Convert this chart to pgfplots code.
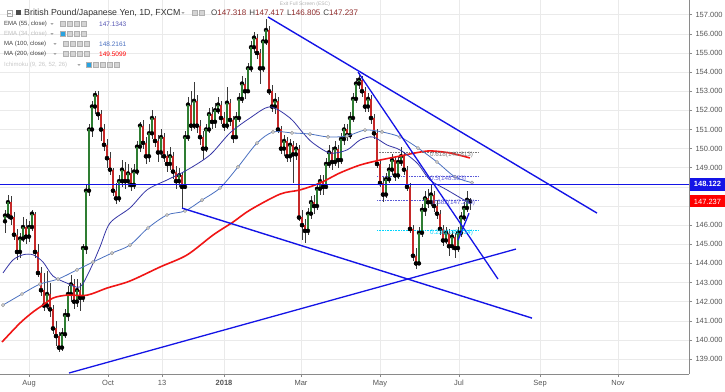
\documentclass[border=0pt]{standalone}
\usepackage{pgfplots}
\pgfplotsset{compat=1.18}
\usepackage{pgfplotstable}
\usepackage{fontspec}
\setmainfont{Liberation Sans}
\definecolor{upc}{HTML}{2E7D32}
\definecolor{dnc}{HTML}{C62828}
\definecolor{wick}{HTML}{3A3A3A}
\definecolor{ema}{HTML}{3535A5}
\definecolor{mahund}{HTML}{4A70C0}
\definecolor{matwo}{HTML}{F01515}
\definecolor{tl}{HTML}{1414E6}
\definecolor{gridc}{HTML}{EAEAEA}
\definecolor{axc}{HTML}{8A8A8A}
\definecolor{txt}{HTML}{555555}
\definecolor{fibg}{HTML}{7A7A7A}
\definecolor{fibb}{HTML}{5A5AD8}
\definecolor{fibc}{HTML}{00D5FF}
\definecolor{ohlc}{HTML}{8E2A2A}
\definecolor{tvblue}{HTML}{29A3E0}
\definecolor{boxg}{HTML}{D4D4D4}
\definecolor{boxd}{HTML}{B0B0B0}

\pgfplotstableread{
x o h l c
5 146.2 146.8 145.6 146.5
8 146.5 147.6 146.3 147.2
11 147.2 147.5 146.0 146.4
14 146.4 146.7 145.2 145.5
17 145.5 145.8 144.2 144.6
20 144.6 145.6 144.3 145.3
23 145.3 146.4 145.1 145.9
26 145.9 146.3 145.0 145.4
29 145.4 146.2 145.1 145.9
32 145.9 146.8 145.7 146.6
35 146.6 146.7 144.3 144.6
38 144.6 145.0 143.3 143.5
41 143.5 143.8 142.3 142.6
44 142.6 143.5 141.5 141.8
47 141.8 143.6 141.6 142.4
50 142.4 143.0 141.2 141.6
53 141.6 141.8 140.3 140.6
56 140.6 141.0 139.7 140.2
59 140.2 140.4 139.35 139.6
62 139.6 140.6 139.4 140.3
65 140.3 141.6 140.1 141.3
68 141.3 142.8 141.0 142.4
71 142.4 143.4 142.0 142.9
74 142.9 143.2 141.6 142.0
77 142.0 143.2 141.7 142.6
80 142.6 143.0 141.5 142.2
83 142.2 145.0 142.0 144.8
86 144.8 148.1 144.5 147.8
89 147.8 151.3 147.5 151.0
92 151.0 152.5 150.6 152.2
95 152.2 153.0 151.8 152.8
98 152.8 153.0 151.5 151.8
101 151.8 152.0 150.4 151.0
104 151.0 151.3 149.9 150.2
107 150.2 150.5 149.0 149.5
110 149.5 149.8 148.6 148.9
113 148.9 149.0 147.5 147.8
116 147.8 148.2 147.1 147.4
119 147.4 148.6 147.2 148.3
122 148.3 149.4 148.0 148.9
125 148.9 149.3 147.9 148.3
128 148.3 149.2 148.0 148.7
131 148.7 149.0 147.8 148.1
134 148.1 149.2 147.9 148.8
137 148.8 150.4 148.6 150.1
140 150.1 151.4 149.8 151.2
143 151.2 151.5 150.0 150.3
146 150.3 150.6 149.2 149.6
149 149.6 151.3 149.3 150.8
152 150.8 152.0 150.5 151.6
155 151.6 151.7 150.1 150.4
158 150.4 150.7 149.3 149.8
161 149.8 151.0 149.5 150.6
164 150.6 150.8 149.3 149.6
167 149.6 149.9 148.8 149.2
170 149.2 150.1 148.9 149.6
173 149.6 149.8 148.4 148.8
176 148.8 149.1 147.9 148.3
179 148.3 149.0 148.0 148.6
182 148.6 148.8 146.9 148.0
185 148.0 150.9 147.9 150.6
188 150.6 152.7 150.4 152.3
191 152.3 153.0 150.9 151.2
194 151.2 153.5 151.0 152.5
197 152.5 152.8 150.8 151.2
200 151.2 151.5 150.2 150.6
203 150.6 150.9 149.4 150.0
206 150.0 151.3 149.8 151.0
209 151.0 152.1 150.8 151.8
212 151.8 152.2 151.0 151.4
215 151.4 152.4 151.1 152.0
218 152.0 152.7 151.8 152.3
221 152.3 152.5 151.3 151.6
224 151.6 151.9 150.9 151.2
227 151.2 153.2 151.0 152.4
230 152.4 152.6 151.2 151.5
233 151.5 151.7 150.3 150.6
236 150.6 151.9 150.5 151.6
239 151.6 152.9 151.4 152.6
242 152.6 153.8 152.4 153.4
245 153.4 153.7 152.6 153.0
248 153.0 154.5 152.9 154.2
251 154.2 155.6 154.0 155.3
254 155.3 156.1 155.0 155.8
257 155.8 156.0 154.7 155.0
260 155.0 155.2 153.4 154.2
263 154.2 155.9 154.0 155.6
266 155.6 156.75 155.4 156.2
269 156.2 156.4 152.8 153.0
272 153.0 153.3 151.9 152.2
275 152.2 152.9 151.8 152.5
278 152.5 152.7 150.8 151.0
281 151.0 151.2 149.7 150.0
284 150.0 150.7 149.6 150.4
287 150.4 150.6 149.3 149.6
290 149.6 150.5 149.3 150.2
293 150.2 150.4 148.2 149.7
296 149.7 150.3 149.4 150.0
299 150.0 150.2 146.2 146.4
302 146.4 146.8 145.2 146.0
305 146.0 146.3 145.05 145.7
308 145.7 146.9 145.5 146.6
311 146.6 147.5 146.3 147.2
314 147.2 147.6 146.6 147.0
317 147.0 148.2 146.8 147.9
320 147.9 148.6 147.6 148.3
323 148.3 148.6 147.6 148.0
326 148.0 149.5 147.9 149.2
329 149.2 150.2 149.0 149.8
332 149.8 150.1 148.9 149.3
335 149.3 150.4 149.1 150.0
338 150.0 150.2 149.0 149.4
341 149.4 150.8 149.2 150.5
344 150.5 151.3 150.2 151.0
347 151.0 151.3 150.4 150.7
350 150.7 151.9 150.5 151.6
353 151.6 152.9 151.4 152.6
356 152.6 153.7 152.4 153.4
359 153.4 153.95 153.1 153.6
362 153.6 153.8 152.7 153.0
365 153.0 153.2 151.9 152.2
368 152.2 152.9 151.9 152.6
371 152.6 152.8 151.3 151.6
374 151.6 151.8 150.5 150.8
377 150.8 151.0 149.0 149.2
380 149.2 149.4 148.0 148.2
383 148.2 148.5 147.2 147.6
386 147.6 148.7 147.4 148.4
389 148.4 149.2 148.2 148.9
392 148.9 149.7 148.6 149.4
395 149.4 149.6 148.3 148.6
398 148.6 149.6 148.4 149.3
401 149.3 150.1 149.1 149.6
404 149.6 149.8 148.6 148.9
407 148.9 149.1 147.8 148.0
410 148.0 148.2 145.6 145.8
413 145.8 146.0 144.1 144.4
416 144.4 144.8 143.7 144.0
419 144.0 145.9 143.9 145.6
422 145.6 147.1 145.4 146.8
425 146.8 147.8 146.5 147.4
428 147.4 147.9 146.9 147.2
431 147.2 148.1 147.0 147.6
434 147.6 147.8 146.7 147.0
437 147.0 147.3 146.3 146.6
440 146.6 146.8 145.5 145.8
443 145.8 146.0 144.9 145.2
446 145.2 145.9 145.0 145.6
449 145.6 145.8 144.4 144.9
452 144.9 145.7 144.7 145.4
455 145.4 145.6 144.3 144.8
458 144.8 145.9 144.6 145.6
461 145.6 146.7 145.4 146.4
464 146.4 147.2 146.2 146.9
467 146.9 147.8 146.7 147.32
470 147.318 147.417 146.805 147.237
}\candles

\newcommand{\tvbox}[3]{\filldraw[fill=#3,draw=boxd,line width=0.3pt] (#1,#2-2.6) rectangle (#1+5.2,#2+2.6);}
\newcommand{\tri}[2]{\fill[gray!70] (#1-1.6,#2+0.9)--(#1+1.6,#2+0.9)--(#1,#2-0.9)--cycle;}

\begin{document}
\begin{tikzpicture}[x=1pt,y=1pt]
\useasboundingbox (0,-17) rectangle (725,374);
\begin{axis}[
  at={(0,0)}, anchor=south west,
  scale only axis, width=689pt, height=374pt,
  xmin=0, xmax=689, ymin=138.218, ymax=157.768,
  axis x line*=bottom, axis y line*=right,
  axis line style={axc, line width=0.6pt},
  tick align=outside, major tick length=3pt,
  tick style={axc, line width=0.5pt},
  grid=major, grid style={gridc, line width=0.5pt},
  ytick={139,140,...,146,149,150,...,157},
  extra y ticks={147,148}, extra y tick labels={},
  extra y tick style={grid=major},
  scaled y ticks=false,
  y tick label style={font=\fontsize{7.5}{8}\selectfont, text=txt,
     /pgf/number format/.cd, fixed, fixed zerofill, precision=3, 1000 sep={}, assume math mode=true},
  xtick={29,108,162,224,301,380,459,540,618},
  xticklabels={Aug,Oct,13,\textbf{2018},Mar,May,Jul,Sep,Nov},
  x tick label style={font=\fontsize{7.5}{8}\selectfont, text=txt},
  clip mode=individual,
]
% fib levels
\addplot[fibg, densely dotted, line width=0.6pt] coordinates {(377,149.813) (478,149.813)};
\addplot[fibb, densely dotted, line width=0.6pt] coordinates {(377,148.553) (478,148.553)};
\addplot[fibb, densely dotted, line width=0.6pt] coordinates {(377,147.293) (478,147.293)};
\addplot[fibc, densely dotted, line width=0.6pt] coordinates {(377,145.734) (478,145.734)};
% wicks
\addplot[only marks, mark=none, forget plot,
  error bars/.cd, y dir=both, y explicit, error mark=none,
  error bar style={line width=0.5pt, color=wick}]
  table[x=x, y=c, y error plus expr=\thisrow{h}-\thisrow{c}, y error minus expr=\thisrow{c}-\thisrow{l}] {\candles};
% up bodies
\addplot[only marks, mark=none, forget plot,
  restrict expr to domain={\thisrow{c}-\thisrow{o}}{0:100},
  error bars/.cd, y dir=plus, y explicit, error mark=none,
  error bar style={line width=1.7pt, color=upc}]
  table[x=x, y=o, y error expr=\thisrow{c}-\thisrow{o}] {\candles};
% down bodies
\addplot[only marks, mark=none, forget plot,
  restrict expr to domain={\thisrow{o}-\thisrow{c}}{0.0001:100},
  error bars/.cd, y dir=plus, y explicit, error mark=none,
  error bar style={line width=1.7pt, color=dnc}]
  table[x=x, y=c, y error expr=\thisrow{o}-\thisrow{c}] {\candles};
% MA 200
\addplot[matwo, line width=1.6pt, smooth] coordinates {
(2,139.89) (20,140.88) (33,141.46) (43,141.82) (53,142.19) (67,142.34) (87,142.34) (107,142.71)
(130,143.08) (160,143.81) (187,144.44) (213,145.48) (233,146.16) (250,146.79) (280,147.62)
(300,147.84) (320,148.20) (340,148.73) (360,149.14) (380,149.40) (400,149.61) (415,149.77)
(430,149.88) (450,149.77) (470,149.51)};
% EMA 55
\addplot[ema, line width=0.8pt, smooth] coordinates {
(3,143.50) (13,144.18) (23,144.45) (33,144.45) (43,144.07) (53,143.34) (67,142.97) (80,142.77)
(90,143.66) (100,144.86) (110,146.11) (130,146.90) (147,147.84) (167,148.36) (187,148.88)
(210,149.67) (230,150.82) (250,151.60) (270,152.18) (290,151.60) (303,150.82) (313,150.29)
(330,149.77) (347,149.93) (360,150.45) (373,150.61) (387,150.19) (400,149.93) (417,149.25)
(430,148.36) (447,147.84) (470,147.13)};
% MA 100
\addplot[mahund, line width=0.8pt, smooth, mark=*, mark size=1.7pt,
  mark options={fill=gray!35, draw=gray!85, line width=0.4pt}] coordinates {
(3,141.82) (22,142.40) (40,142.92) (58,143.18) (77,143.66) (93,144.07) (112,144.54) (130,144.96)
(148,145.85) (167,146.53) (185,146.74) (202,147.31) (220,147.94) (238,149.04) (257,150.29)
(273,150.87) (292,150.82) (310,150.76) (328,150.61) (347,150.66) (365,150.97) (382,150.87)
(400,150.61) (418,150.03) (437,149.30) (455,148.52) (472,148.22)};
% trend lines
\addplot[tl, line width=1.4pt] coordinates {(268,156.88) (597,146.63)};
\addplot[tl, line width=1.4pt] coordinates {(182,146.89) (532,141.14)};
\addplot[tl, line width=1.3pt] coordinates {(69,138.27) (516,144.75)};
\addplot[tl, line width=1.3pt] coordinates {(358,154.0) (498,143.18)};
\addplot[tl, line width=1.3pt] coordinates {(458,145.21) (469,146.62)};
\addplot[tl, line width=1.0pt] coordinates {(0,148.122) (689,148.122)};
% fib labels
\node[anchor=west, font=\fontsize{6.3}{7}\selectfont, text=fibg, inner sep=0pt] at (axis cs:430,149.813) [yshift=-2.5pt] {0.618(149.813)};
\node[anchor=west, font=\fontsize{6.3}{7}\selectfont, text=fibb, inner sep=0pt] at (axis cs:430,148.553) [yshift=-2.5pt] {0.5(148.553)};
\node[anchor=west, font=\fontsize{6.3}{7}\selectfont, text=fibb, inner sep=0pt] at (axis cs:432,147.293) [yshift=-2.5pt] {0.382(147.293)};
\node[anchor=west, font=\fontsize{6.3}{7}\selectfont, text=fibc, inner sep=0pt] at (axis cs:430,145.734) [yshift=-2.5pt] {0.236(145.734)};
\end{axis}
% price boxes on the right
\node[fill=tl, text=white, font=\fontsize{7.5}{8}\selectfont\bfseries, inner sep=0pt, minimum width=35pt, minimum height=13pt] at (707.5,189.7) {148.122};
\node[fill=red, text=white, font=\fontsize{7.5}{8}\selectfont, inner sep=0pt, minimum width=35pt, minimum height=12pt] at (707.5,172.5) {147.237};
% header
\draw[gray!70, line width=0.4pt] (7,358) rectangle (12.5,364);
\draw[gray!70, line width=0.4pt] (8.3,361)--(11.2,361);
\fill[gray!60!black] (16,358.5) rectangle (21,363.5);
\node[anchor=west, inner sep=0pt, font=\fontsize{8.8}{10}\selectfont, text=black!80] at (24,361) {British Pound/Japanese Yen, 1D, FXCM};
\tri{183}{361}
\tvbox{192}{361}{boxg}
\tvbox{199}{361}{boxg}
\node[anchor=west, inner sep=0pt, font=\fontsize{8}{9}\selectfont, text=black!75] at (211,361)
  {O\textcolor{ohlc}{147.318}\hspace{3pt}H\textcolor{ohlc}{147.417}\hspace{3pt}L\textcolor{ohlc}{146.805}\hspace{3pt}C\textcolor{ohlc}{147.237}};
\node[inner sep=0pt, font=\fontsize{5}{6}\selectfont, text=gray!60] at (305,370) {Exit Full Screen (ESC)};
% indicator legend
\node[anchor=west, inner sep=0pt, font=\fontsize{6}{7}\selectfont, text=black!75] at (4,350) {EMA (55, close)};
\tri{52}{350}
\tvbox{60}{350}{boxg}\tvbox{67}{350}{boxg}\tvbox{74}{350}{boxg}\tvbox{81}{350}{boxg}
\node[anchor=west, inner sep=0pt, font=\fontsize{6.5}{7}\selectfont, text=ema!85] at (99,350) {147.1343};
\node[anchor=west, inner sep=0pt, font=\fontsize{6}{7}\selectfont, text=black!25] at (4,340) {EMA (34, close)};
\tri{52}{340}
\tvbox{60}{340}{tvblue}\tvbox{67}{340}{boxg}\tvbox{74}{340}{boxg}\tvbox{81}{340}{boxg}
\node[anchor=west, inner sep=0pt, font=\fontsize{6}{7}\selectfont, text=black!75] at (4,330) {MA (100, close)};
\tri{55}{330}
\tvbox{63}{330}{boxg}\tvbox{70}{330}{boxg}\tvbox{77}{330}{boxg}\tvbox{84}{330}{boxg}
\node[anchor=west, inner sep=0pt, font=\fontsize{6.5}{7}\selectfont, text=mahund] at (99,330) {148.2161};
\node[anchor=west, inner sep=0pt, font=\fontsize{6}{7}\selectfont, text=black!75] at (4,320) {MA (200, close)};
\tri{55}{320}
\tvbox{63}{320}{boxg}\tvbox{70}{320}{boxg}\tvbox{77}{320}{boxg}\tvbox{84}{320}{boxg}
\node[anchor=west, inner sep=0pt, font=\fontsize{6.5}{7}\selectfont, text=red] at (99,320) {149.5099};
\node[anchor=west, inner sep=0pt, font=\fontsize{6}{7}\selectfont, text=black!22] at (4,309) {Ichimoku (9, 26, 52, 26)};
\tri{79}{309}
\tvbox{86}{309}{tvblue}\tvbox{93}{309}{boxg}\tvbox{100}{309}{boxg}\tvbox{107}{309}{boxg}\tvbox{114}{309}{boxg}
\end{tikzpicture}
\end{document}
